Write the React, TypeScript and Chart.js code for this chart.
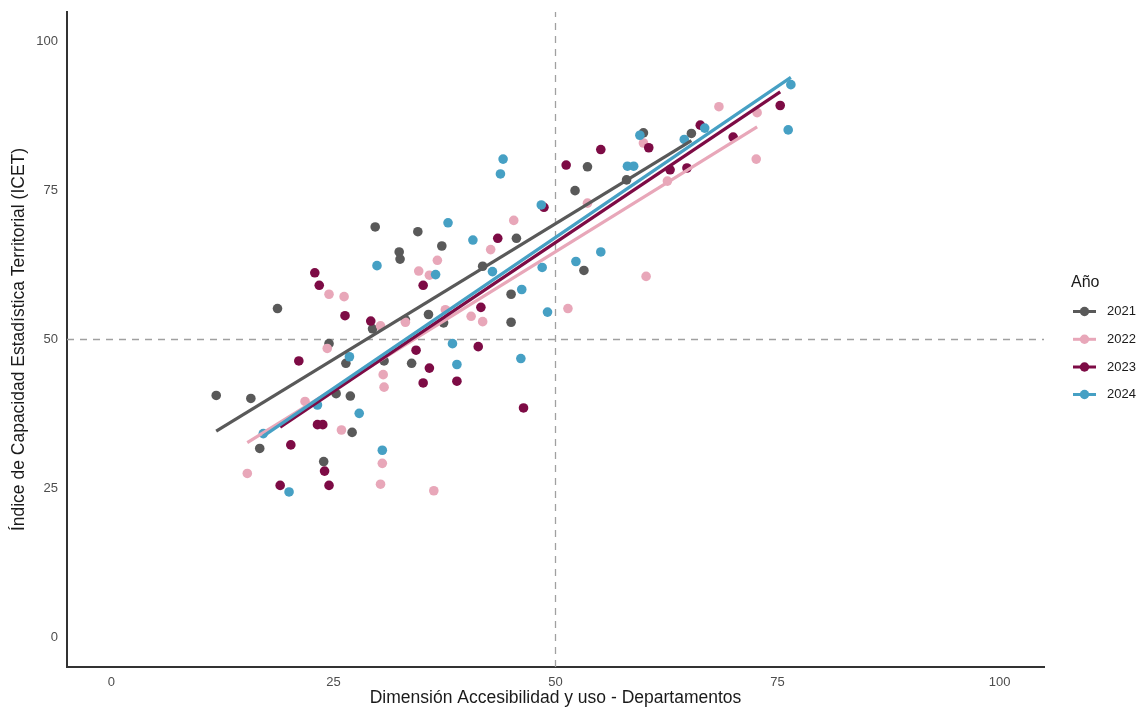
import React, { useEffect, useRef } from "react";
import { Chart, registerables } from "chart.js";

Chart.register(...registerables);

const years = ["2021", "2022", "2023", "2024"];
const colors = ["#595959", "#e8a7b9", "#7d0b45", "#46a0c4"];

const x2021 = [11.8, 15.7, 16.7, 18.7, 23.9, 24.5, 26.4, 25.3, 26.9, 27.1, 29.4, 29.7, 32.4, 32.5, 34.5, 37.2, 33.1, 35.7, 37.4, 41.8, 45.6, 45.0, 45.0, 30.7, 33.8, 59.9, 65.3, 53.6, 52.2, 58.0, 53.2];
const y2021 = [40.6, 40.1, 31.7, 55.2, 29.5, 49.3, 46.0, 40.9, 40.5, 34.4, 51.8, 68.9, 64.7, 63.5, 68.1, 65.7, 53.3, 54.2, 52.8, 62.3, 67.0, 57.6, 52.9, 46.4, 46.0, 84.7, 84.6, 79.0, 75.0, 76.8, 61.6];

const x2022 = [15.3, 21.8, 24.3, 24.5, 26.2, 25.9, 30.3, 30.6, 30.7, 30.5, 30.3, 36.3, 34.6, 35.8, 36.7, 33.1, 37.6, 40.5, 41.8, 42.7, 45.3, 51.4, 68.4, 72.7, 72.6, 59.9, 62.6, 60.2, 53.6];
const y2022 = [27.5, 39.6, 48.5, 57.6, 57.2, 34.8, 52.3, 44.1, 42.0, 29.2, 25.7, 24.6, 61.5, 60.8, 63.3, 52.9, 55.0, 53.9, 53.0, 65.1, 70.0, 55.2, 89.1, 88.1, 80.3, 83.0, 76.6, 60.6, 72.9];

const x2023 = [22.9, 23.4, 26.3, 29.2, 21.1, 23.2, 23.8, 20.2, 24.0, 19.0, 24.5, 35.1, 43.5, 48.7, 51.2, 41.6, 34.3, 35.8, 35.1, 38.9, 41.3, 46.4, 55.1, 60.5, 66.3, 70.0, 75.3, 62.9, 64.8];
const y2023 = [61.2, 59.1, 54.0, 53.1, 46.4, 35.7, 35.7, 32.3, 27.9, 25.5, 25.5, 59.1, 67.0, 72.2, 79.3, 55.4, 48.2, 45.2, 42.7, 43.0, 48.8, 38.5, 81.9, 82.2, 86.0, 84.0, 89.3, 78.5, 78.8];

const x2024 = [29.9, 26.8, 27.9, 23.2, 17.1, 20.0, 37.9, 44.1, 43.8, 40.7, 48.5, 46.2, 42.9, 36.5, 49.1, 38.4, 38.9, 46.1, 30.5, 48.4, 76.5, 76.2, 59.5, 66.8, 64.5, 58.1, 58.8, 52.3, 55.1];
const y2024 = [62.4, 47.1, 37.6, 39.0, 34.2, 24.4, 69.6, 80.3, 77.8, 66.7, 62.1, 58.4, 61.4, 60.9, 54.6, 49.3, 45.8, 46.8, 31.4, 72.6, 92.8, 85.2, 84.3, 85.5, 83.6, 79.1, 79.1, 63.1, 64.7];

const seriesX = [x2021, x2022, x2023, x2024];
const seriesY = [y2021, y2022, y2023, y2024];

const tickValues = [0, 25, 50, 75, 100];
const refX = 50;
const refY = 50;
const axisMin = -5;
const axisMax = 105;

const xTitle = "Dimensión Accesibilidad y uso - Departamentos";
const yTitle = "Índice de Capacidad Estadística Territorial (ICET)";
const legendTitle = "Año";

const FONT = "'Liberation Sans', Arial, sans-serif";

function fit(xs: number[], ys: number[]) {
  const n = xs.length;
  const mx = xs.reduce((a, b) => a + b, 0) / n;
  const my = ys.reduce((a, b) => a + b, 0) / n;
  let sxy = 0;
  let sxx = 0;
  for (let i = 0; i < n; i++) {
    sxy += (xs[i] - mx) * (ys[i] - my);
    sxx += (xs[i] - mx) * (xs[i] - mx);
  }
  const b = sxy / sxx;
  const a = my - b * mx;
  const lo = Math.min(...xs);
  const hi = Math.max(...xs);
  return [
    { x: lo, y: a + b * lo },
    { x: hi, y: a + b * hi },
  ];
}

const legendPlugin = {
  id: "customLegend",
  afterDraw(chart: any) {
    const ctx = chart.ctx;
    ctx.save();
    ctx.fillStyle = "#1a1a1a";
    ctx.font = `16px ${FONT}`;
    ctx.textBaseline = "middle";
    ctx.textAlign = "left";
    ctx.fillText(legendTitle, 1071, 283);
    const ys = [311.5, 339.3, 367, 394.5];
    years.forEach((yr, i) => {
      const y = ys[i];
      ctx.strokeStyle = colors[i];
      ctx.lineWidth = 3;
      ctx.beginPath();
      ctx.moveTo(1073, y);
      ctx.lineTo(1096, y);
      ctx.stroke();
      ctx.fillStyle = colors[i];
      ctx.beginPath();
      ctx.arc(1084.5, y, 4.7, 0, Math.PI * 2);
      ctx.fill();
      ctx.fillStyle = "#1a1a1a";
      ctx.font = `13px ${FONT}`;
      ctx.fillText(yr, 1107, y);
    });
    ctx.restore();
  },
};

export default function App() {
  const ref = useRef<HTMLCanvasElement>(null);
  useEffect(() => {
    if (!ref.current) return;
    const datasets: any[] = [];
    datasets.push({
      type: "line",
      data: [
        { x: refX, y: axisMin },
        { x: refX, y: axisMax },
      ],
      borderColor: "#a0a0a0",
      borderWidth: 1.3,
      borderDash: [7, 6],
      pointRadius: 0,
      order: 100,
    });
    datasets.push({
      type: "line",
      data: [
        { x: axisMin, y: refY },
        { x: axisMax, y: refY },
      ],
      borderColor: "#a0a0a0",
      borderWidth: 1.3,
      borderDash: [7, 6],
      pointRadius: 0,
      order: 99,
    });
    years.forEach((yr, i) => {
      datasets.push({
        type: "scatter",
        label: yr,
        data: seriesX[i].map((x, j) => ({ x, y: seriesY[i][j] })),
        backgroundColor: colors[i],
        borderWidth: 0,
        pointRadius: 4.8,
        order: 50 - i,
      });
    });
    years.forEach((yr, i) => {
      datasets.push({
        type: "line",
        label: yr + " fit",
        data: fit(seriesX[i], seriesY[i]),
        borderColor: colors[i],
        borderWidth: 3.2,
        pointRadius: 0,
        borderCapStyle: "butt",
        order: 10 - i,
      });
    });
    const chart = new Chart(ref.current, {
      type: "scatter",
      data: { datasets },
      options: {
        animation: false,
        responsive: false,
        layout: { padding: { left: 0, top: 12, right: 94, bottom: 0 } },
        plugins: { legend: { display: false }, tooltip: { enabled: false } },
        scales: {
          x: {
            type: "linear",
            min: axisMin,
            max: axisMax,
            grid: { display: false, drawTicks: false },
            border: { display: true, color: "#333333", width: 2 },
            afterBuildTicks: (s: any) => {
              s.ticks = tickValues.map((v) => ({ value: v }));
            },
            afterFit: (s: any) => {
              s.height = 46;
              s.paddingLeft = 0;
              s.paddingRight = 0;
            },
            ticks: {
              padding: 8,
              color: "#4d4d4d",
              font: { family: FONT, size: 13 },
              maxRotation: 0,
            },
            title: {
              display: true,
              text: xTitle,
              color: "#1a1a1a",
              font: { family: FONT, size: 17.5 },
              padding: { top: 0, bottom: 4 },
            },
          },
          y: {
            type: "linear",
            min: axisMin,
            max: axisMax,
            grid: { display: false, drawTicks: false },
            border: { display: true, color: "#333333", width: 2 },
            afterBuildTicks: (s: any) => {
              s.ticks = tickValues.map((v) => ({ value: v }));
            },
            afterFit: (s: any) => {
              s.width = 67;
              s.paddingTop = 0;
              s.paddingBottom = 0;
            },
            ticks: {
              padding: 9,
              color: "#4d4d4d",
              font: { family: FONT, size: 13 },
            },
            title: {
              display: true,
              text: yTitle,
              color: "#1a1a1a",
              font: { family: FONT, size: 17.5 },
              padding: { top: 9, bottom: 0 },
            },
          },
        },
      },
      plugins: [legendPlugin],
    });
    return () => chart.destroy();
  }, []);
  return (
    <div style={{ position: "fixed", left: 0, top: 0, width: 1138, height: 713, background: "#ffffff" }}>
      <canvas ref={ref} width={1138} height={713} style={{ width: 1138, height: 713, display: "block" }} />
    </div>
  );
}
